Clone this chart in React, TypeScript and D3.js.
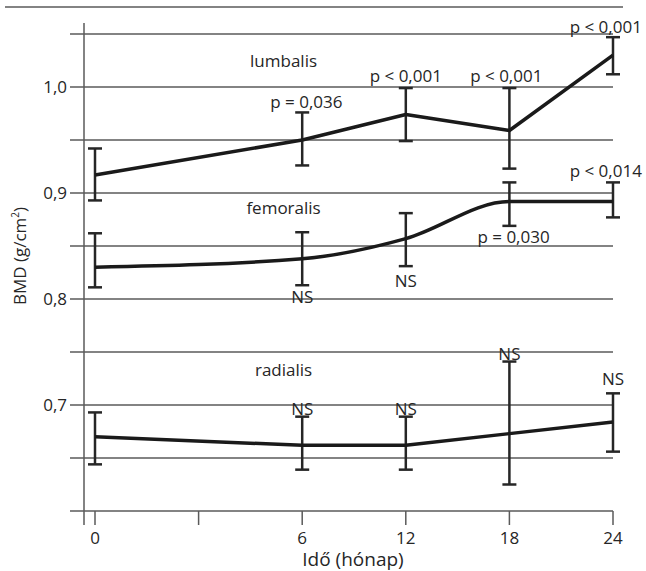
import * as d3 from 'd3';

const MONTHS = ['0', '3', '6', '12', '18', '24'];
const TICK_LABELS = ['0', '', '6', '12', '18', '24'];
const DATA_MONTHS = ['0', '6', '12', '18', '24'];

const Y_GRID = [0.6, 0.65, 0.7, 0.75, 0.8, 0.85, 0.9, 0.95, 1.0, 1.05];
const Y_LABELS = [0.7, 0.8, 0.9, 1.0];

// mean, lower and upper end of the error bar
const LUMB_MEAN = [0.917, 0.95, 0.974, 0.959, 1.03];
const LUMB_LO = [0.893, 0.926, 0.949, 0.923, 1.012];
const LUMB_HI = [0.942, 0.976, 0.999, 0.999, 1.047];

const FEM_MEAN = [0.83, 0.838, 0.857, 0.892, 0.892];
const FEM_LO = [0.811, 0.813, 0.831, 0.869, 0.877];
const FEM_HI = [0.862, 0.863, 0.881, 0.91, 0.91];

const RAD_MEAN = [0.67, 0.662, 0.662, 0.673, 0.684];
const RAD_LO = [0.644, 0.639, 0.639, 0.625, 0.656];
const RAD_HI = [0.693, 0.689, 0.689, 0.741, 0.711];

// text labels: slot = position along the x axis (index of MONTHS), value = baseline in BMD units
const NOTE_TEXT = ['lumbalis', 'femoralis', 'radialis', 'p = 0,036', 'p < 0,001', 'p < 0,001', 'p < 0,001', 'p < 0,014', 'p = 0,030', 'NS', 'NS', 'NS', 'NS', 'NS', 'NS'];
const NOTE_SLOT = [1.82, 1.82, 1.82, 2.04, 3, 3.97, 4.93, 4.93, 4.04, 2, 3, 4, 5, 2, 3];
const NOTE_VALUE = [1.019, 0.88, 0.727, 0.98, 1.0047, 1.0047, 1.051, 0.915, 0.853, 0.796, 0.811, 0.7425, 0.719, 0.6906, 0.6906];

const FONT = '"Open Sans", sans-serif';
const INK = '#262626';
const GRID = '#5a5a5a';

const W = 646;
const H = 571;

export default function App() {
  const x = d3.scalePoint<string>().domain(MONTHS).range([95, 613]);
  const slot = d3.scaleLinear().domain([0, MONTHS.length - 1]).range([95, 613]);
  const y = d3.scaleLinear().domain([0.6, 1.05]).range([511, 34]);

  const gridLeft = 70;
  const gridRight = 613;
  const axisX = 84;
  const tickLen = 14;

  const series = [
    { mean: LUMB_MEAN, lo: LUMB_LO, hi: LUMB_HI, curve: d3.curveLinear },
    { mean: FEM_MEAN, lo: FEM_LO, hi: FEM_HI, curve: d3.curveMonotoneX },
    { mean: RAD_MEAN, lo: RAD_LO, hi: RAD_HI, curve: d3.curveLinear },
  ];

  const capW = 7;

  return (
    <svg
      width={W}
      height={H}
      style={{ position: 'absolute', left: 0, top: 0, background: '#fff' }}
      fontFamily={FONT}
    >
      {/* frame line from the page */}
      <line x1={5} x2={623} y1={7} y2={7} stroke={GRID} strokeWidth={1.5} />

      {/* horizontal grid */}
      {Y_GRID.map((v) => (
        <line key={v} x1={gridLeft} x2={gridRight} y1={y(v)} y2={y(v)} stroke={GRID} strokeWidth={1.5} />
      ))}

      {/* y axis */}
      <line x1={axisX} x2={axisX} y1={23} y2={y(0.6) + tickLen} stroke={GRID} strokeWidth={1.5} />
      {Y_LABELS.map((v) => (
        <text key={v} x={gridLeft - 3} y={y(v)} dy="0.35em" textAnchor="end" fontSize={17} fill={INK}>
          {d3.format('.1f')(v).replace('.', ',')}
        </text>
      ))}
      <text
        transform="translate(26,256) rotate(-90)"
        textAnchor="middle"
        fontSize={17}
        fill={INK}
      >
        BMD (g/cm<tspan baselineShift="super" fontSize={10}>2</tspan>)
      </text>

      {/* x axis ticks */}
      {MONTHS.map((m, i) => (
        <g key={m} transform={`translate(${x(m)},0)`}>
          <line y1={y(0.6)} y2={y(0.6) + tickLen} stroke={GRID} strokeWidth={1.5} />
          <text y={y(0.6) + 33} textAnchor="middle" fontSize={17} fill={INK}>
            {TICK_LABELS[i]}
          </text>
        </g>
      ))}
      <text x={353} y={566} textAnchor="middle" fontSize={19} fill={INK}>
        Idő (hónap)
      </text>

      {/* series */}
      {series.map((s, si) => {
        const line = d3
          .line<number>()
          .x((_, i) => x(DATA_MONTHS[i]) as number)
          .y((d) => y(d))
          .curve(s.curve);
        return (
          <g key={si}>
            {s.mean.map((_, i) => {
              const cx = x(DATA_MONTHS[i]) as number;
              return (
                <g key={i} stroke={INK} strokeWidth={2.5}>
                  <line x1={cx} x2={cx} y1={y(s.lo[i])} y2={y(s.hi[i])} />
                  <line x1={cx - capW} x2={cx + capW} y1={y(s.lo[i])} y2={y(s.lo[i])} />
                  <line x1={cx - capW} x2={cx + capW} y1={y(s.hi[i])} y2={y(s.hi[i])} />
                </g>
              );
            })}
            <path d={line(s.mean) ?? ''} fill="none" stroke="#1a1a1a" strokeWidth={3.5} strokeLinejoin="round" />
          </g>
        );
      })}

      {/* annotations */}
      {NOTE_TEXT.map((t, i) => (
        <text key={i} x={slot(NOTE_SLOT[i])} y={y(NOTE_VALUE[i])} textAnchor="middle" fontSize={17} fill={INK}>
          {t}
        </text>
      ))}
    </svg>
  );
}
